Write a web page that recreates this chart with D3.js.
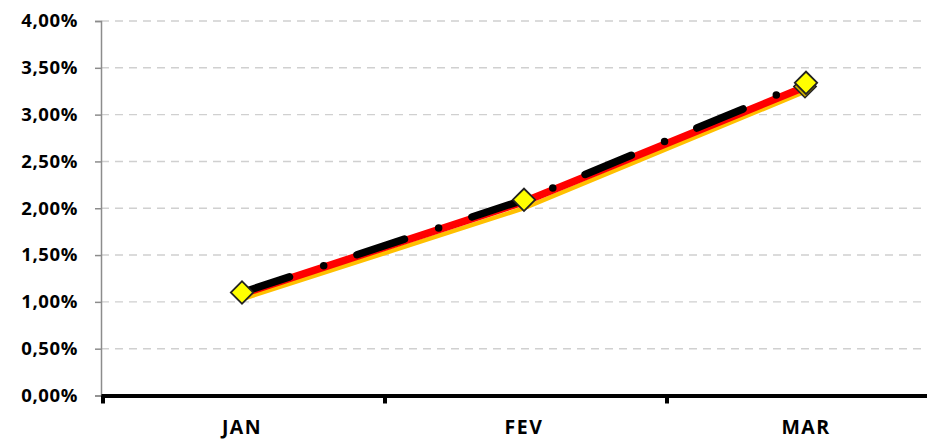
<!DOCTYPE html>
<html>
<head>
<meta charset="utf-8">
<script src="https://cdn.jsdelivr.net/npm/d3@7"></script>
<style>
  body { margin: 0; background: #fff; }
  svg text { font-family: "Open Sans", sans-serif; font-weight: bold; fill: #000; }
</style>
</head>
<body>
<script>
// months and series (fractions, 0.011 = 1,10%)
var months = ["JAN", "FEV", "MAR"];
var orangeValues = [0.0103, 0.0200, 0.0325];
var redValues = [0.01085, 0.0207, 0.0330];
var blackValues = [0.0110, 0.0209, 0.0334];
var yTicks = [0, 0.005, 0.01, 0.015, 0.02, 0.025, 0.03, 0.035, 0.04];

var width = 927,
    height = 441;

var svg = d3.select("body").append("svg")
    .attr("width", width)
    .attr("height", height);

var x = d3.scaleBand()
    .domain(months)
    .range([101, 947])
    .padding(0);

var y = d3.scaleLinear()
    .domain([0, 0.04])
    .range([395.5, 21]);

var pct = d3.formatLocale({ decimal: ",", thousands: ".", grouping: [3], currency: ["", ""] })
    .format(".2%");

function cx(d, i) { return x(months[i]) + x.bandwidth() / 2; }

// gridlines
svg.append("g")
  .selectAll("line")
  .data(yTicks.slice(1))
  .enter().append("line")
    .attr("x1", 101)
    .attr("x2", width)
    .attr("y1", function(d) { return y(d); })
    .attr("y2", function(d) { return y(d); })
    .attr("stroke", "#d0d0d0")
    .attr("stroke-width", 1.4)
    .attr("stroke-dasharray", "8,6");

// y axis
var yAxis = svg.append("g")
    .attr("transform", "translate(101,0)")
    .call(d3.axisLeft(y).tickValues(yTicks).tickFormat(pct).tickSize(6).tickPadding(17));
yAxis.select(".domain").attr("stroke", "#8c8c8c").attr("stroke-width", 1.5);
yAxis.selectAll(".tick line").attr("stroke", "#8c8c8c").attr("stroke-width", 1.5);
yAxis.selectAll("text")
    .attr("font-size", 18.5)
    .attr("letter-spacing", 0.6)
    .attr("font-family", null);

// x axis
var xAxis = svg.append("g")
    .attr("transform", "translate(0," + y(0) + ")")
    .call(d3.axisBottom(x).tickSize(0).tickPadding(25));
xAxis.select(".domain").attr("stroke", "#000").attr("stroke-width", 4);
xAxis.selectAll("text")
    .attr("font-size", 19.5)
    .attr("letter-spacing", 1.5)
    .attr("font-family", null);

// tick marks between categories
svg.append("g")
  .selectAll("line")
  .data(months)
  .enter().append("line")
    .attr("x1", function(d) { return x(d) + 2; })
    .attr("x2", function(d) { return x(d) + 2; })
    .attr("y1", y(0))
    .attr("y2", y(0) + 8)
    .attr("stroke", "#000")
    .attr("stroke-width", 4);

var line = d3.line()
    .x(cx)
    .y(function(d) { return y(d); });

svg.append("path")
    .datum(orangeValues)
    .attr("d", line)
    .attr("fill", "none")
    .attr("stroke", "#ffc000")
    .attr("stroke-width", 4.5);

svg.append("path")
    .datum(redValues)
    .attr("d", line)
    .attr("fill", "none")
    .attr("stroke", "#ff0000")
    .attr("stroke-width", 7.5);

var diamond = d3.symbol().type(d3.symbolSquare).size(250);

// marker peeking out under the last yellow diamond
svg.append("path")
    .attr("d", diamond)
    .attr("transform", "translate(" + (cx(null, 2) - 1) + "," + y(redValues[2]) + ") rotate(45)")
    .attr("fill", "#c8aa00")
    .attr("stroke", "#222")
    .attr("stroke-width", 1.5);

svg.append("path")
    .datum(blackValues)
    .attr("d", line)
    .attr("fill", "none")
    .attr("stroke", "#000")
    .attr("stroke-width", 7.5)
    .attr("stroke-linecap", "round")
    .attr("stroke-dasharray", "50,36,0,35");

svg.append("g")
  .selectAll("path")
  .data(blackValues)
  .enter().append("path")
    .attr("d", diamond)
    .attr("transform", function(d, i) { return "translate(" + cx(d, i) + "," + y(d) + ") rotate(45)"; })
    .attr("fill", "#ffff00")
    .attr("stroke", "#222")
    .attr("stroke-width", 1.8);
</script>
</body>
</html>
